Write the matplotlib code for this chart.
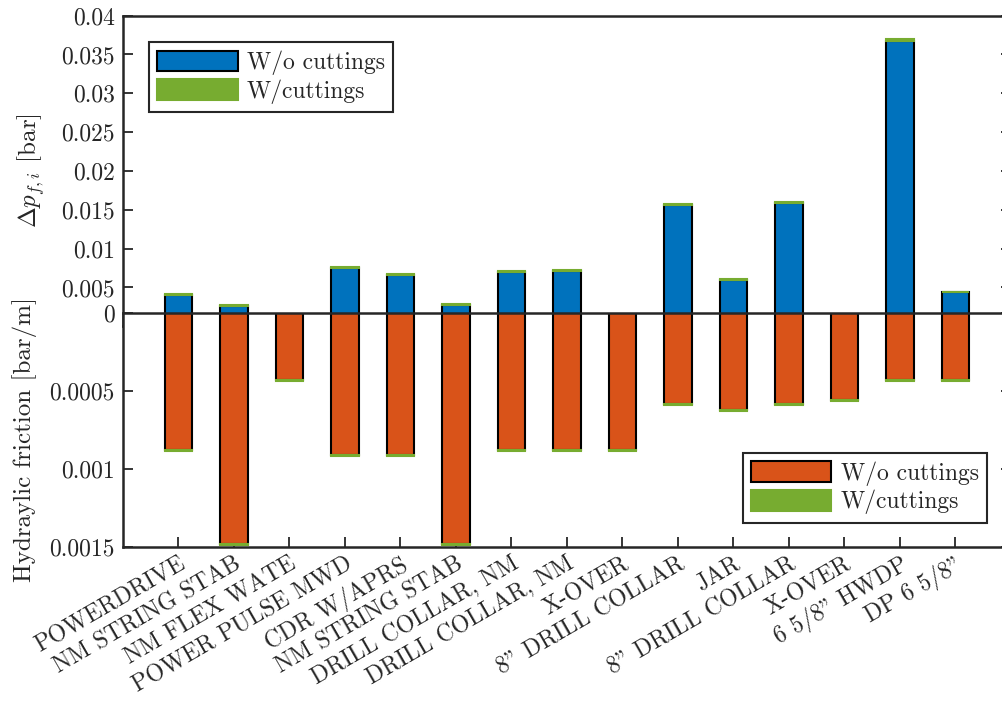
import matplotlib
matplotlib.use("Agg")
import matplotlib.pyplot as plt
from matplotlib.ticker import FuncFormatter

plt.rcParams.update({
    "font.family": "cmr10",
    "mathtext.fontset": "cm",
    "axes.formatter.use_mathtext": True,
    "font.size": 17,
    "text.color": "#262626",
    "axes.labelcolor": "#262626",
    "xtick.color": "#262626",
    "ytick.color": "#262626",
    "axes.edgecolor": "#262626",
    "axes.linewidth": 1.8,
})

# BHA components, bit to surface
components = [
    "POWERDRIVE", "NM STRING STAB", "NM FLEX WATE", "POWER PULSE MWD",
    "CDR W/APRS", "NM STRING STAB", "DRILL COLLAR, NM", "DRILL COLLAR, NM",
    "X-OVER", '8" DRILL COLLAR', "JAR", '8" DRILL COLLAR', "X-OVER",
    '6 5/8" HWDP', 'DP 6 5/8"',
]

# Frictional pressure drop per component [bar]
dp_without = [0.00403, 0.00265, 0.00120, 0.00751, 0.00661, 0.00274, 0.00703, 0.00712,
              0.00110, 0.01566, 0.00600, 0.01582, 0.00090, 0.03678, 0.00438]
dp_with = [0.00412, 0.00274, 0.00130, 0.00764, 0.00673, 0.00283, 0.00712, 0.00725,
           0.00120, 0.01579, 0.00613, 0.01597, 0.00100, 0.03693, 0.00445]

# Hydraulic friction gradient per component [bar/m]
fr_without = [0.000878, 0.001478, 0.000432, 0.000912, 0.000912, 0.001478, 0.000878, 0.000878,
              0.000878, 0.000582, 0.000620, 0.000582, 0.000556, 0.000432, 0.000432]
fr_with = [0.000883, 0.001486, 0.000437, 0.000917, 0.000917, 0.001486, 0.000883, 0.000883,
           0.000883, 0.000590, 0.000627, 0.000590, 0.000565, 0.000437, 0.000437]

top_ticks = [0.005, 0.01, 0.015, 0.02, 0.025, 0.03, 0.035, 0.04]
bottom_ticks = [0, 0.0005, 0.001, 0.0015]

blue = "#0072BD"
orange = "#D95319"
green = "#77AC30"

x = list(range(1, len(components) + 1))
width = 0.5
fmt = FuncFormatter(lambda v, p: "%g" % v)
legend_style = dict(borderaxespad=0, fancybox=False, framealpha=1, edgecolor="#262626",
                    handlelength=3.4, handleheight=0.95, handletextpad=0.4,
                    borderpad=0.35, labelspacing=0.18, fontsize=17)

fig = plt.figure(figsize=(10.03, 7.02), dpi=100)
ax_top = fig.add_axes([0.1226, 0.5352, 0.8853, 0.4425])
ax_bot = fig.add_axes([0.1226, 0.2204, 0.8853, 0.3342])
ax_top.set_zorder(1)
ax_bot.set_zorder(2)
ax_bot.patch.set_facecolor("white")

# Pressure drop (upper panel)
b1 = ax_top.bar(x, dp_without, width, color=blue, edgecolor="black", linewidth=1.5,
                zorder=2, label="W/o cuttings")
b2 = ax_top.bar(x, [w - o for w, o in zip(dp_with, dp_without)], width, bottom=dp_without,
                color=green, edgecolor=green, linewidth=1.5, zorder=3, label="W/cuttings")
ax_top.set_xlim(0, len(components) + 1)
ax_top.set_ylim(0, 0.04)
ax_top.set_xticks([])
ax_top.set_yticks(top_ticks)
ax_top.yaxis.set_major_formatter(fmt)
ax_top.tick_params(axis="y", direction="in", length=7, width=1.3, left=True, right=True, pad=6)
ax_top.set_ylabel(r"$\Delta p_{f,i}$ [bar]", fontsize=18)
ax_top.yaxis.set_label_coords(-0.085, 0.5)
leg1 = ax_top.legend(handles=[b1, b2], loc="upper left", bbox_to_anchor=(0.0293, 0.915),
                     **legend_style)
leg1.get_frame().set_linewidth(1.5)

# Friction gradient (lower panel, drawn downward)
b3 = ax_bot.bar(x, fr_without, width, color=orange, edgecolor="black", linewidth=1.5,
                zorder=2, label="W/o cuttings")
b4 = ax_bot.bar(x, [w - o for w, o in zip(fr_with, fr_without)], width, bottom=fr_without,
                color=green, edgecolor=green, linewidth=1.5, zorder=3, label="W/cuttings")
ax_bot.set_xlim(0, len(components) + 1)
ax_bot.set_ylim(0.0015, 0)
ax_bot.set_yticks(bottom_ticks)
ax_bot.yaxis.set_major_formatter(fmt)
ax_bot.set_xticks(x)
ax_bot.set_xticklabels(components, rotation=30, ha="right", rotation_mode="anchor")
ax_bot.tick_params(axis="y", direction="in", length=7, width=1.3, left=True, right=True, pad=6)
ax_bot.tick_params(axis="x", direction="in", length=7, width=1.3, bottom=True, top=False, pad=4)
ax_bot.set_ylabel("Hydraylic friction [bar/m]", fontsize=18)
ax_bot.yaxis.set_label_coords(-0.097, 0.46)
leg2 = ax_bot.legend(handles=[b3, b4], loc="upper right", bbox_to_anchor=(0.973, 0.402),
                     **legend_style)
leg2.get_frame().set_linewidth(1.5)

fig.savefig("out.png", dpi=100)
